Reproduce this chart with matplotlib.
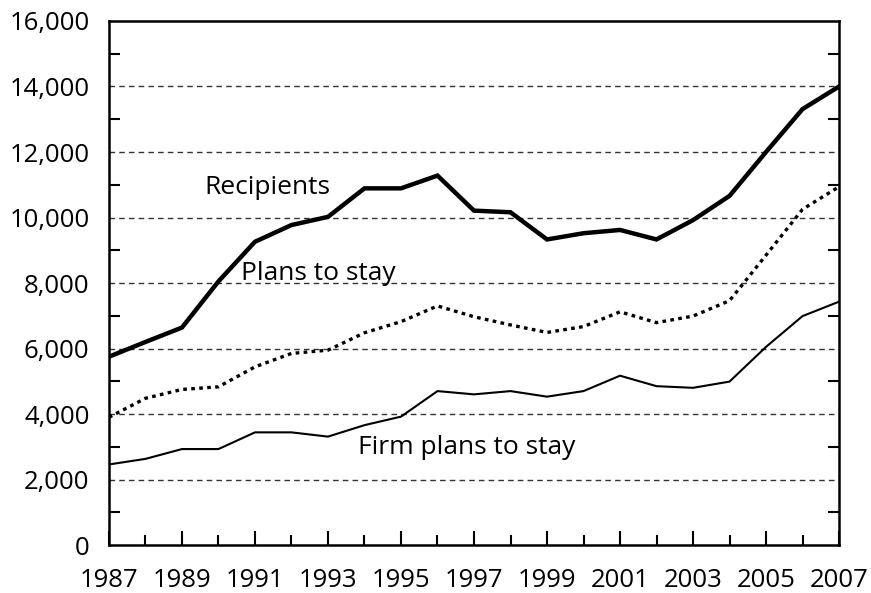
import matplotlib.pyplot as plt
from matplotlib.ticker import FixedLocator, MultipleLocator, FuncFormatter

plt.rcParams['font.family'] = ['Open Sans', 'DejaVu Sans']

years = list(range(1987, 2008))
# 获得者人数
recipients = [5750, 6200, 6640, 8050, 9260, 9770, 10020, 10890, 10890, 11280, 10210,
              10160, 9330, 9520, 9620, 9330, 9920, 10660, 12000, 13310, 14000]
# 计划留下
plans_stay = [3900, 4480, 4750, 4830, 5440, 5850, 5950, 6480, 6820, 7300, 6970,
              6720, 6490, 6670, 7120, 6790, 6990, 7460, 8850, 10250, 10940]
# 明确计划留下
firm_plans = [2460, 2630, 2930, 2930, 3440, 3440, 3310, 3660, 3920, 4700, 4600,
              4700, 4530, 4700, 5170, 4850, 4800, 4990, 6050, 6990, 7430]

fig = plt.figure(figsize=(8.71, 5.93), dpi=100)
ax = fig.add_axes([0.1251, 0.0809, 0.8382, 0.8837])

ax.plot(years, recipients, color='black', lw=3.2, solid_joinstyle='miter', zorder=3)
ax.plot(years, plans_stay, color='black', lw=2.4, linestyle=(0, (1.1, 1.3)), zorder=3)
ax.plot(years, firm_plans, color='black', lw=1.5, zorder=3)

ax.set_xlim(1987, 2007)
ax.set_ylim(0, 16000)

# 网格线
for yv in range(2000, 16000, 2000):
    ax.axhline(yv, color='#333333', lw=1.0, linestyle=(0, (4, 3)), zorder=1)

ax.xaxis.set_major_locator(FixedLocator(years[::2]))
ax.xaxis.set_minor_locator(FixedLocator(years[1::2]))
ax.yaxis.set_major_locator(MultipleLocator(2000))
ax.yaxis.set_minor_locator(MultipleLocator(1000))
ax.yaxis.set_major_formatter(FuncFormatter(lambda v, p: f'{int(v):,}'))

ax.tick_params(axis='x', which='major', direction='in', length=10, width=1.5,
               labelsize=18.5, pad=16.5)
ax.tick_params(axis='x', which='minor', direction='in', length=7, width=1.5)
ax.tick_params(axis='y', which='major', direction='in', length=0, labelsize=18.5, pad=14)
ax.tick_params(axis='y', which='minor', direction='in', length=8, width=1.5,
               right=True)

for s in ax.spines.values():
    s.set_linewidth(1.8)

ax.text(1991.33, 10930, 'Recipients', fontsize=19, ha='center', va='center')
ax.text(1992.73, 8300, 'Plans to stay', fontsize=19, ha='center', va='center')
ax.text(1996.8, 2990, 'Firm plans to stay', fontsize=19, ha='center', va='center')

fig.savefig('out.png', dpi=100)
